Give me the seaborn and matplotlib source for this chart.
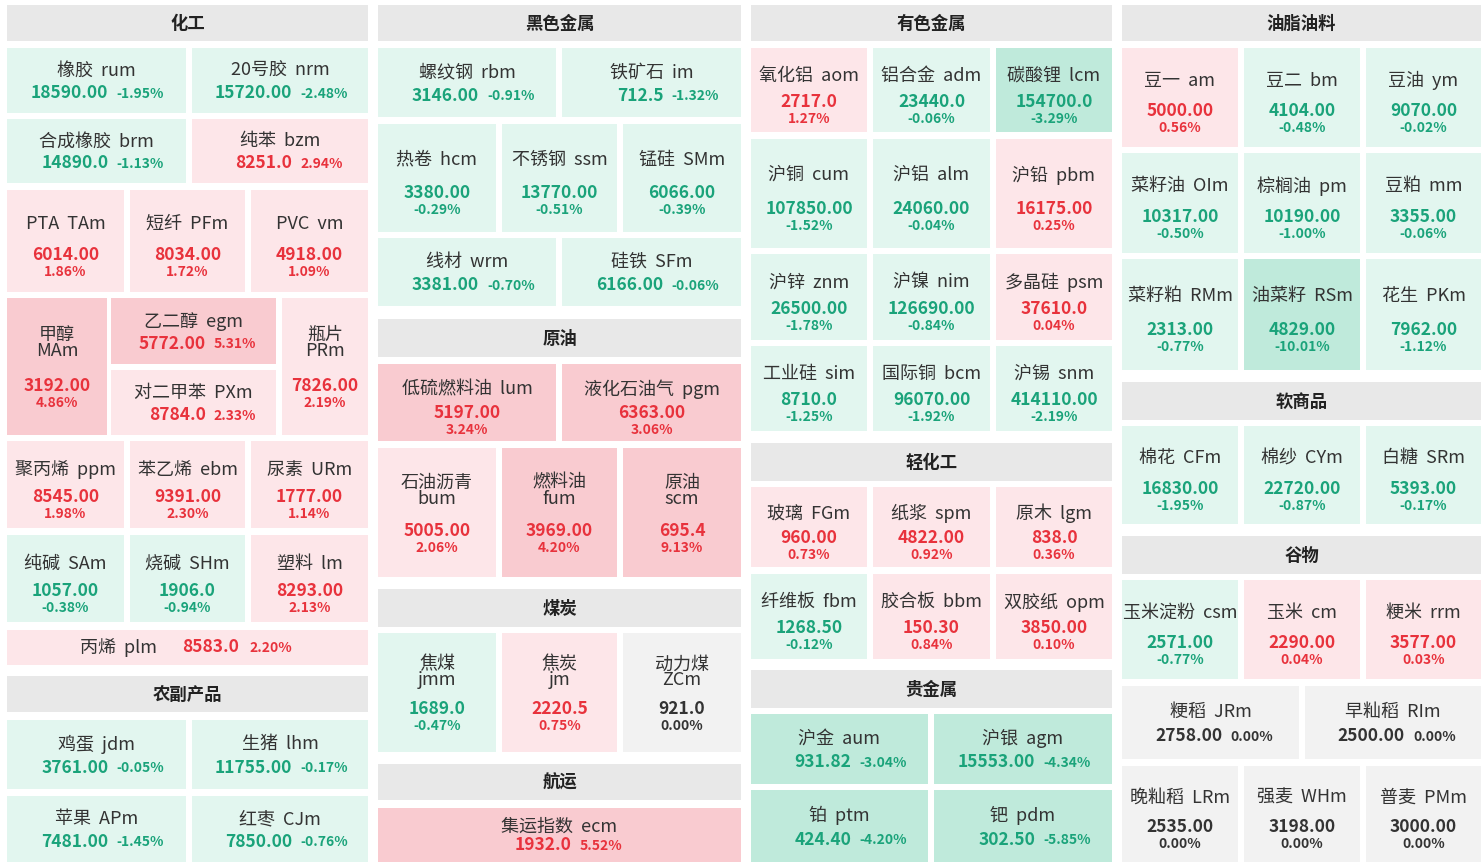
import seaborn as sns
import matplotlib.pyplot as plt
from matplotlib.patches import Rectangle

sns.set_theme(style="white")
plt.rcParams['font.family'] = ['Noto Sans CJK SC', 'DejaVu Sans']

# section headers
headers = ["化工", "农副产品", "黑色金属", "原油", "煤炭", "航运",
           "有色金属", "轻化工", "贵金属", "油脂油料", "软商品", "谷物"]
header_boxes = [(7, 368, 5, 41), (7, 368, 676, 712), (378, 741, 5, 41), (378, 741, 319, 357),
                (378, 741, 589, 627), (378, 741, 764, 800), (751, 1112, 5, 41), (751, 1112, 443, 481),
                (751, 1112, 670, 708), (1122, 1481, 5, 41), (1122, 1481, 382, 420), (1122, 1481, 536, 574)]

# tiles
names = ["橡胶", "20号胶", "合成橡胶", "纯苯", "PTA", "短纤", "PVC", "甲醇", "乙二醇", "对二甲苯", "瓶片",
         "聚丙烯", "苯乙烯", "尿素", "纯碱", "烧碱", "塑料", "丙烯", "鸡蛋", "生猪", "苹果", "红枣",
         "螺纹钢", "铁矿石", "热卷", "不锈钢", "锰硅", "线材", "硅铁", "低硫燃料油", "液化石油气",
         "石油沥青", "燃料油", "原油", "焦煤", "焦炭", "动力煤", "集运指数",
         "氧化铝", "铝合金", "碳酸锂", "沪铜", "沪铝", "沪铅", "沪锌", "沪镍", "多晶硅", "工业硅", "国际铜", "沪锡",
         "玻璃", "纸浆", "原木", "纤维板", "胶合板", "双胶纸", "沪金", "沪银", "铂", "钯",
         "豆一", "豆二", "豆油", "菜籽油", "棕榈油", "豆粕", "菜籽粕", "油菜籽", "花生", "棉花", "棉纱", "白糖",
         "玉米淀粉", "玉米", "粳米", "粳稻", "早籼稻", "晚籼稻", "强麦", "普麦"]
codes = ["rum", "nrm", "brm", "bzm", "TAm", "PFm", "vm", "MAm", "egm", "PXm", "PRm",
         "ppm", "ebm", "URm", "SAm", "SHm", "lm", "plm", "jdm", "lhm", "APm", "CJm",
         "rbm", "im", "hcm", "ssm", "SMm", "wrm", "SFm", "lum", "pgm",
         "bum", "fum", "scm", "jmm", "jm", "ZCm", "ecm",
         "aom", "adm", "lcm", "cum", "alm", "pbm", "znm", "nim", "psm", "sim", "bcm", "snm",
         "FGm", "spm", "lgm", "fbm", "bbm", "opm", "aum", "agm", "ptm", "pdm",
         "am", "bm", "ym", "OIm", "pm", "mm", "RMm", "RSm", "PKm", "CFm", "CYm", "SRm",
         "csm", "cm", "rrm", "JRm", "RIm", "LRm", "WHm", "PMm"]
prices = ["18590.00", "15720.00", "14890.0", "8251.0", "6014.00", "8034.00", "4918.00", "3192.00", "5772.00",
          "8784.0", "7826.00", "8545.00", "9391.00", "1777.00", "1057.00", "1906.0", "8293.00", "8583.0",
          "3761.00", "11755.00", "7481.00", "7850.00",
          "3146.00", "712.5", "3380.00", "13770.00", "6066.00", "3381.00", "6166.00", "5197.00", "6363.00",
          "5005.00", "3969.00", "695.4", "1689.0", "2220.5", "921.0", "1932.0",
          "2717.0", "23440.0", "154700.0", "107850.00", "24060.00", "16175.00", "26500.00", "126690.00",
          "37610.0", "8710.0", "96070.00", "414110.00", "960.00", "4822.00", "838.0", "1268.50", "150.30",
          "3850.00", "931.82", "15553.00", "424.40", "302.50",
          "5000.00", "4104.00", "9070.00", "10317.00", "10190.00", "3355.00", "2313.00", "4829.00", "7962.00",
          "16830.00", "22720.00", "5393.00", "2571.00", "2290.00", "3577.00", "2758.00", "2500.00",
          "2535.00", "3198.00", "3000.00"]
pcts = [-1.95, -2.48, -1.13, 2.94, 1.86, 1.72, 1.09, 4.86, 5.31, 2.33, 2.19,
        1.98, 2.30, 1.14, -0.38, -0.94, 2.13, 2.20, -0.05, -0.17, -1.45, -0.76,
        -0.91, -1.32, -0.29, -0.51, -0.39, -0.70, -0.06, 3.24, 3.06,
        2.06, 4.20, 9.13, -0.47, 0.75, 0.00, 5.52,
        1.27, -0.06, -3.29, -1.52, -0.04, 0.25, -1.78, -0.84, 0.04, -1.25, -1.92, -2.19,
        0.73, 0.92, 0.36, -0.12, 0.84, 0.10, -3.04, -4.34, -4.20, -5.85,
        0.56, -0.48, -0.02, -0.50, -1.00, -0.06, -0.77, -10.01, -1.12, -1.95, -0.87, -0.17,
        -0.77, 0.04, 0.03, 0.00, 0.00, 0.00, 0.00, 0.00]
two_line = {"甲醇", "瓶片", "石油沥青", "燃料油", "原油", "焦煤", "焦炭", "动力煤"}

# layout boxes (x0, x1, y0, y1) in pixels
boxes = [(7, 186, 48, 113), (192, 368, 48, 113), (7, 186, 119, 183), (192, 368, 119, 183),
         (7, 124, 190, 292), (130, 245, 190, 292), (251, 368, 190, 292),
         (7, 107, 298, 435), (111, 276, 298, 364), (111, 276, 370, 435), (282, 368, 298, 435),
         (7, 124, 441, 528), (130, 245, 441, 528), (251, 368, 441, 528),
         (7, 124, 535, 622), (130, 245, 535, 622), (251, 368, 535, 622), (7, 368, 630, 665),
         (7, 186, 720, 789), (192, 368, 720, 789), (7, 186, 796, 862), (192, 368, 796, 862),
         (378, 556, 48, 117), (562, 741, 48, 117),
         (378, 496, 124, 232), (502, 617, 124, 232), (623, 741, 124, 232),
         (378, 556, 238, 306), (562, 741, 238, 306), (378, 556, 364, 441), (562, 741, 364, 441),
         (378, 496, 448, 577), (502, 617, 448, 577), (623, 741, 448, 577),
         (378, 496, 633, 752), (502, 617, 633, 752), (623, 741, 633, 752), (378, 741, 808, 862)]
c3 = [(751, 867), (873, 990), (996, 1112)]
for y0, y1 in [(48, 132), (139, 248), (254, 340), (346, 431), (487, 567), (574, 659)]:
    boxes += [(a, b, y0, y1) for a, b in c3]
boxes += [(751, 928, 714, 784), (934, 1112, 714, 784), (751, 928, 790, 862), (934, 1112, 790, 862)]
c4 = [(1122, 1238), (1244, 1360), (1366, 1481)]
for y0, y1 in [(48, 147), (153, 253), (259, 370), (426, 524), (580, 679)]:
    boxes += [(a, b, y0, y1) for a, b in c4]
boxes += [(1122, 1299, 686, 759), (1305, 1481, 686, 759)]
boxes += [(a, b, 766, 862) for a, b in c4]

RED, GREEN, GREY = "#e8323c", "#1aa37a", "#333333"

fig = plt.figure(figsize=(14.84, 8.67), dpi=100)
ax = fig.add_axes([0, 0, 1, 1])
ax.set_xlim(0, 1484)
ax.set_ylim(867, 0)
ax.axis("off")

for h, (x0, x1, y0, y1) in zip(headers, header_boxes):
    ax.add_patch(Rectangle((x0, y0), x1 - x0, y1 - y0, color="#e8e8e8", lw=0))
    ax.text((x0 + x1) / 2, (y0 + y1) / 2 + 1, h, ha="center", va="center",
            fontsize=12.5, fontweight="bold", color="#222222")

for n, c, p, v, (x0, x1, y0, y1) in zip(names, codes, prices, pcts, boxes):
    if v > 0:
        bg, tc = ("#f9cbd0" if v >= 3 else "#fde6e9"), RED
    elif v < 0:
        bg, tc = ("#bfeadb" if v <= -3 else "#e2f6ef"), GREEN
    else:
        bg, tc = "#f2f2f2", GREY
    w, h = x1 - x0, y1 - y0
    cx = (x0 + x1) / 2
    ax.add_patch(Rectangle((x0, y0), w, h, color=bg, lw=0))
    label = f"{n}\n{c}" if n in two_line else f"{n}  {c}"
    pct = f"{v:.2f}%"
    if h < 45:
        ax.text(cx - 30, y0 + h / 2, label, ha="right", va="center", fontsize=13, color="#333333")
        ax.text(cx - 5, y0 + h / 2, p, ha="left", va="center", fontsize=12.5, fontweight="bold", color=tc)
        ax.text(cx + 62, y0 + h / 2, pct, ha="left", va="center", fontsize=10, fontweight="bold", color=tc)
    elif w > 160 and h < 76:
        ax.text(cx, y0 + h * 0.35, label, ha="center", va="center", fontsize=13, color="#333333")
        ax.text(cx + 12, y0 + h * 0.69, p, ha="right", va="center", fontsize=12.5, fontweight="bold", color=tc)
        ax.text(cx + 20, y0 + h * 0.70, pct, ha="left", va="center", fontsize=10, fontweight="bold", color=tc)
    else:
        ax.text(cx, y0 + h * 0.33, label, ha="center", va="center", fontsize=13, color="#333333",
                linespacing=0.85)
        ax.text(cx, y0 + h * 0.64, p, ha="center", va="center", fontsize=12.5, fontweight="bold", color=tc)
        ax.text(cx, y0 + h * 0.64 + 17, pct, ha="center", va="center", fontsize=10, fontweight="bold", color=tc)

fig.savefig("out.png", dpi=100, facecolor="white")
